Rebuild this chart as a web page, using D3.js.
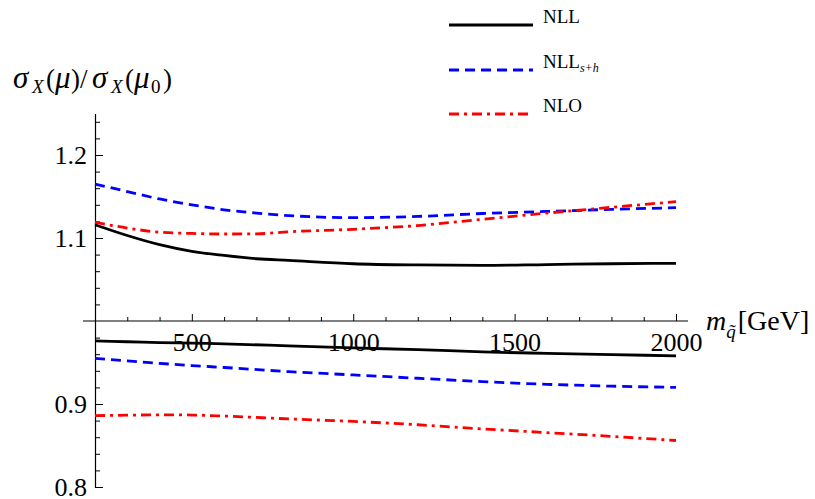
<!DOCTYPE html>
<html>
<head>
<meta charset="utf-8">
<script src="https://cdn.jsdelivr.net/npm/d3@7"></script>
<style>
  body { margin: 0; background: #fff; }
  svg text, svg tspan { font-family: "Liberation Serif", "DejaVu Serif", serif !important; fill: #000; }
</style>
</head>
<body>
<div id="chart"></div>
<script>
// squark mass grid [GeV]
var massUp = [200, 300, 400, 500, 600, 700, 800, 1000, 1200, 1400, 1600, 1800, 2000];
var nllUp  = [1.116, 1.103, 1.092, 1.084, 1.079, 1.075, 1.073, 1.069, 1.0675, 1.067, 1.068, 1.069, 1.0695];
var nllshUp = [1.165, 1.156, 1.147, 1.140, 1.134, 1.130, 1.127, 1.1245, 1.126, 1.1295, 1.132, 1.1345, 1.1365];
var nloUp  = [1.119, 1.112, 1.107, 1.1055, 1.1048, 1.105, 1.1075, 1.1105, 1.115, 1.1225, 1.130, 1.137, 1.1438];

var massLow = [200, 300, 400, 500, 600, 800, 1000, 1200, 1400, 1600, 1800, 2000];
var nllLow  = [0.976, 0.975, 0.974, 0.9733, 0.9725, 0.970, 0.9675, 0.9655, 0.9628, 0.961, 0.9595, 0.958];
var nllshLow = [0.955, 0.952, 0.949, 0.9463, 0.944, 0.939, 0.935, 0.931, 0.927, 0.9237, 0.9215, 0.920];
var nloLow  = [0.886, 0.8865, 0.887, 0.8867, 0.8855, 0.882, 0.879, 0.875, 0.870, 0.8655, 0.861, 0.856];

var yMajor = [0.8, 0.9, 1.1, 1.2];
var xMajor = [500, 1000, 1500, 2000];
var legendNames = ["NLL", "NLL", "NLO"];

var width = 815, height = 499;
var serif = "'Liberation Serif', 'DejaVu Serif', serif";

var svg = d3.select("#chart")
  .append("svg")
    .attr("width", width)
    .attr("height", height)
    .attr("font-family", serif);

// scales
var x = d3.scaleLinear().domain([200, 2000]).range([95, 676]);
var y = d3.scaleLinear().domain([0.8, 1.25]).range([487, 113.5]);

// minor ticks
var yMinor = d3.range(0.8, 1.25, 0.02).map(function(d) { return +d.toFixed(2); })
  .filter(function(d) { return yMajor.indexOf(d) < 0 && d !== 1; });
var xMinor = d3.range(300, 2000, 100).filter(function(d) { return xMajor.indexOf(d) < 0; });

// Y axis
var yAxis = svg.append("g")
  .attr("transform", "translate(" + x(200) + ",0)")
  .call(d3.axisLeft(y).tickValues(yMajor).tickSizeInner(-8).tickSizeOuter(0).tickPadding(8)
    .tickFormat(d3.format(".1f")));
yAxis.attr("font-family", serif).attr("font-size", 26);
yAxis.selectAll("text").attr("dy", "0.33em");
yAxis.select(".domain").attr("stroke-width", 1.2);

svg.append("g")
  .attr("transform", "translate(" + x(200) + ",0)")
  .call(d3.axisLeft(y).tickValues(yMinor).tickSizeInner(-5).tickSizeOuter(0).tickFormat(""))
  .select(".domain").remove();

// X axis at y = 1
var xAxis = svg.append("g")
  .attr("transform", "translate(0," + y(1) + ")")
  .call(d3.axisBottom(x).tickValues(xMajor).tickSizeInner(-7).tickSizeOuter(0).tickPadding(12)
    .tickFormat(d3.format("d")));
xAxis.attr("font-family", serif).attr("font-size", 26);
xAxis.select(".domain").remove();
xAxis.selectAll("text").attr("dy", "0.71em");

svg.append("g")
  .attr("transform", "translate(0," + y(1) + ")")
  .call(d3.axisBottom(x).tickValues(xMinor).tickSizeInner(-4).tickSizeOuter(0).tickFormat(""))
  .select(".domain").remove();

svg.append("line")
  .attr("x1", 83).attr("x2", 688)
  .attr("y1", y(1)).attr("y2", y(1))
  .attr("stroke", "#000").attr("stroke-width", 1.2);

// curves
var series = [
  { m: massUp,  v: nllUp,    color: "#000", dash: null },
  { m: massUp,  v: nllshUp,  color: "#0000ff", dash: "10,6" },
  { m: massUp,  v: nloUp,    color: "#ff0000", dash: "10,5,3,5" },
  { m: massLow, v: nllLow,   color: "#000", dash: null },
  { m: massLow, v: nllshLow, color: "#0000ff", dash: "10,6" },
  { m: massLow, v: nloLow,   color: "#ff0000", dash: "10,5,3,5" }
];

var line = d3.line()
  .x(function(d) { return x(d[0]); })
  .y(function(d) { return y(d[1]); })
  .curve(d3.curveMonotoneX);

series.forEach(function(s) {
  svg.append("path")
    .datum(d3.zip(s.m, s.v))
    .attr("fill", "none")
    .attr("stroke", s.color)
    .attr("stroke-width", 2.8)
    .attr("stroke-dasharray", s.dash)
    .attr("d", line);
});

// legend
var legendY = [25, 70, 114];
series.slice(0, 3).forEach(function(s, i) {
  svg.append("line")
    .attr("x1", 449).attr("x2", 533)
    .attr("y1", legendY[i]).attr("y2", legendY[i])
    .attr("stroke", s.color)
    .attr("stroke-width", 2.8)
    .attr("stroke-dasharray", s.dash);
  var t = svg.append("text")
    .attr("x", 543)
    .attr("y", legendY[i] - 2)
    .attr("font-size", 19)
    .text(legendNames[i]);
  if (i === 1) {
    t.append("tspan").attr("dy", 4).attr("font-size", 12).attr("font-style", "italic").text("s+h");
  }
});

// y label: sigma_X(mu)/sigma_X(mu_0), pieces placed like the Mathematica layout
var ylParts = [
  { t: "σ", x: 13,  size: 31, it: true,  sub: false },
  { t: "X", x: 32,  size: 19, it: true,  sub: true },
  { t: "(", x: 46,  size: 27, it: false, sub: false },
  { t: "μ", x: 55,  size: 31, it: true,  sub: false },
  { t: ")", x: 71,  size: 27, it: false, sub: false },
  { t: "/", x: 80,  size: 27, it: false, sub: false },
  { t: "σ", x: 92,  size: 31, it: true,  sub: false },
  { t: "X", x: 111, size: 19, it: true,  sub: true },
  { t: "(", x: 125, size: 27, it: false, sub: false },
  { t: "μ", x: 134, size: 31, it: true,  sub: false },
  { t: "0", x: 151, size: 19, it: false, sub: true },
  { t: ")", x: 163, size: 27, it: false, sub: false }
];
var yl = svg.append("text");
ylParts.forEach(function(p) {
  yl.append("tspan")
    .attr("x", p.x)
    .attr("y", p.sub ? 93 : 88)
    .attr("font-size", p.size)
    .attr("font-style", p.it ? "italic" : "normal")
    .text(p.t);
});

// x label: m_q~ [GeV]
var xl = svg.append("text")
  .attr("x", 706).attr("y", 330)
  .attr("font-size", 28);
xl.append("tspan").attr("font-style", "italic").text("m");
xl.append("tspan").attr("dy", 8).attr("font-size", 19).attr("font-style", "italic").text("q\u0303");
xl.append("tspan").attr("dy", -8).attr("dx", 2).text("[GeV]");
</script>
</body>
</html>
